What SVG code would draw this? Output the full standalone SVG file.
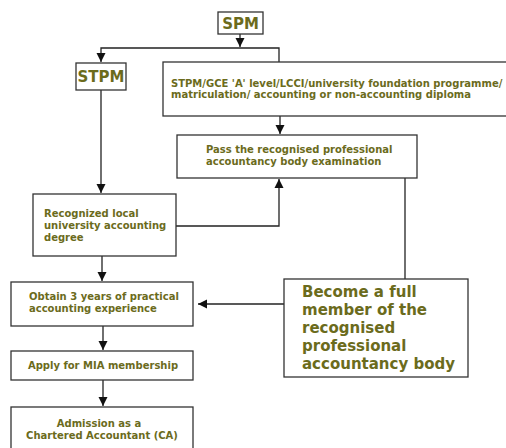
<svg xmlns="http://www.w3.org/2000/svg" width="506" height="448" viewBox="0 0 506 448">
<defs>
<marker id="ah" viewBox="0 0 10 10" refX="10" refY="5" markerWidth="9" markerHeight="10" markerUnits="userSpaceOnUse" orient="auto">
<path d="M0,0 L10,5 L0,10 Z" fill="#111"/>
</marker>
<style>
.box{fill:#fff;stroke:#333;stroke-width:1.3}
.t{font-family:"DejaVu Sans",Verdana,sans-serif;font-weight:bold;fill:#6b6b1c;font-size:10px}
.big{font-size:15px}
.c{text-anchor:middle}
.ln{fill:none;stroke:#222;stroke-width:1.3}
</style>
</defs>
<rect width="506" height="448" fill="#fff"/>
<g id="connectors">
<path class="ln" d="M240,34 V47" marker-end="url(#ah)"/>
<path class="ln" d="M279,62 V48 H101 V62" marker-end="url(#ah)"/>
<path class="ln" d="M101,90 V193" marker-end="url(#ah)"/>
<path class="ln" d="M280,116 V134" marker-end="url(#ah)"/>
<path class="ln" d="M176,226 H279 V179" marker-end="url(#ah)"/>
<path class="ln" d="M405,178 V279"/>
<path class="ln" d="M102,256 V281" marker-end="url(#ah)"/>
<path class="ln" d="M284,304 H198" marker-end="url(#ah)"/>
<path class="ln" d="M103,326 V350" marker-end="url(#ah)"/>
<path class="ln" d="M103,380 V406" marker-end="url(#ah)"/>
</g>
<g id="spm">
<rect class="box" x="218" y="12" width="45" height="22"/>
<text class="t c" x="240.5" y="29" style="font-size:15px">SPM</text>
</g>
<g id="stpm">
<rect class="box" x="76" y="63" width="50" height="27"/>
<text class="t c" x="101" y="82" style="font-size:15px">STPM</text>
</g>
<g id="alt">
<rect class="box" x="163" y="62" width="350" height="54"/>
<text class="t" x="171" y="87">STPM/GCE 'A' level/LCCI/university foundation programme/</text>
<text class="t" x="171" y="98">matriculation/ accounting or non-accounting diploma</text>
</g>
<g id="pass">
<rect class="box" x="177" y="135" width="240" height="43"/>
<text class="t" x="206" y="153">Pass the recognised professional</text>
<text class="t" x="206" y="165">accountancy body examination</text>
</g>
<g id="degree">
<rect class="box" x="33" y="194" width="143" height="62"/>
<text class="t" x="44" y="217">Recognized local</text>
<text class="t" x="44" y="229">university accounting</text>
<text class="t" x="44" y="241">degree</text>
</g>
<g id="experience">
<rect class="box" x="11" y="282" width="182" height="44"/>
<text class="t" x="29" y="300">Obtain 3 years of practical</text>
<text class="t" x="29" y="312">accounting experience</text>
</g>
<g id="member">
<rect class="box" x="284" y="279" width="184" height="98"/>
<text class="t big" x="302" y="297">Become a full</text>
<text class="t big" x="302" y="315">member of the</text>
<text class="t big" x="302" y="333">recognised</text>
<text class="t big" x="302" y="351">professional</text>
<text class="t big" x="302" y="369">accountancy body</text>
</g>
<g id="apply">
<rect class="box" x="11" y="351" width="182" height="29"/>
<text class="t c" x="103" y="369">Apply for MIA membership</text>
</g>
<g id="admission">
<rect class="box" x="11" y="407" width="182" height="50"/>
<text class="t c" x="99" y="427">Admission as a</text>
<text class="t c" x="102" y="439">Chartered Accountant (CA)</text>
</g>
</svg>
